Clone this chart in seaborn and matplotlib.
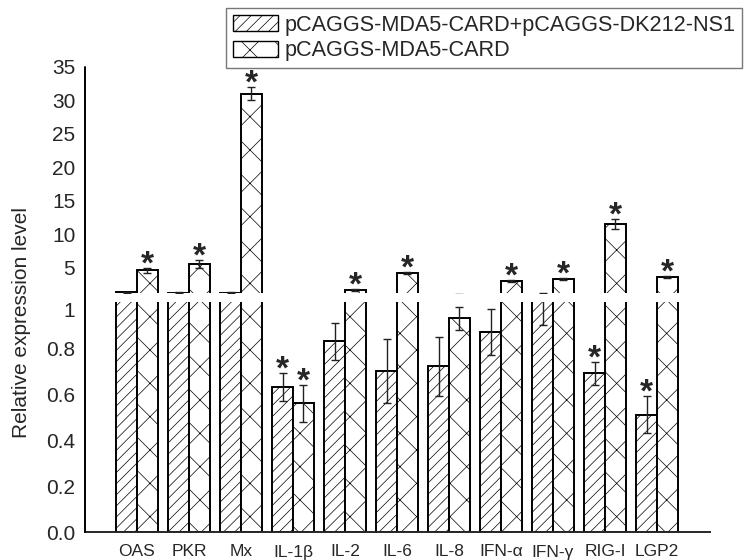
import pandas as pd
import seaborn as sns
import matplotlib.pyplot as plt
from matplotlib.patches import Patch
from matplotlib.lines import Line2D


genes = ['OAS', 'PKR', 'Mx', 'IL-1β', 'IL-2', 'IL-6', 'IL-8', 'IFN-α', 'IFN-γ', 'RIG-I', 'LGP2']
groups = ['pCAGGS-MDA5-CARD+pCAGGS-DK212-NS1', 'pCAGGS-MDA5-CARD']

ns1_vals = [1.3, 1.25, 1.25, 0.63, 0.83, 0.70, 0.72, 0.87, 1.07, 0.69, 0.51]
ns1_err = [0.08, 0.05, 0.05, 0.06, 0.08, 0.14, 0.13, 0.10, 0.17, 0.05, 0.08]
ns1_sig = [False, False, False, True, False, False, False, False, False, True, True]

card_vals = [4.6, 5.6, 31.0, 0.56, 1.65, 4.2, 0.93, 3.0, 3.25, 11.5, 3.6]
card_err = [0.4, 0.6, 1.0, 0.08, 0.10, 0.20, 0.05, 0.12, 0.15, 0.8, 0.20]
card_sig = [True, True, True, True, True, True, False, True, True, True, True]

lower_ticks = [0.0, 0.2, 0.4, 0.6, 0.8, 1.0]
lower_labels = ['0.0', '0.2', '0.4', '0.6', '0.8', '1']
upper_ticks = [5, 10, 15, 20, 25, 30, 35]

hatches = ['///', 'x']

df = pd.DataFrame({
    'gene': genes * 2,
    'group': [groups[0]] * len(genes) + [groups[1]] * len(genes),
    'value': ns1_vals + card_vals,
})

sns.set_style('white')
plt.rcParams['font.family'] = ['Liberation Sans', 'DejaVu Sans']
plt.rcParams['hatch.linewidth'] = 0.5

fig = plt.figure(figsize=(7.5, 5.6), dpi=100)
left, width = 85 / 750, 625 / 750
ax_lo = fig.add_axes([left, 28 / 560, width, 230 / 560])
ax_hi = fig.add_axes([left, 267 / 560, width, 226 / 560])

errs = [ns1_err, card_err]
vals = [ns1_vals, card_vals]
sigs = [ns1_sig, card_sig]

for ax in (ax_lo, ax_hi):
    sns.barplot(data=df, x='gene', y='value', hue='group', order=genes, hue_order=groups,
                palette=['white', 'white'], edgecolor='black', linewidth=1.4,
                errorbar=None, width=0.8, legend=False, ax=ax)
    bar_sets = list(ax.containers[:2])
    for k, cont in enumerate(bar_sets):
        centers = []
        for p in cont:
            p.set_hatch(hatches[k])
            centers.append(p.get_x() + p.get_width() / 2)
        ax.errorbar(centers, vals[k], yerr=errs[k], fmt='none', ecolor='#222222',
                    elinewidth=1, capsize=3, capthick=1)
        for c, v, e, s in zip(centers, vals[k], errs[k], sigs[k]):
            if not s:
                continue
            if (v > 1) == (ax is ax_hi):
                ax.annotate('*', (c, v + e), xytext=(0, -9), textcoords='offset points',
                            ha='center', va='bottom', fontsize=24, fontweight='bold')
    ax.set_xlim(-1.0, 11.02)
    ax.set_xlabel('')
    ax.set_ylabel('')
    sns.despine(ax=ax, left=True)
    ax.tick_params(axis='both', length=0)

ax_lo.set_ylim(0, 1.0)
ax_lo.set_yticks(lower_ticks)
ax_lo.set_yticklabels(lower_labels, fontsize=15)
ax_lo.get_yticklabels()[-1].set_va('top')
ax_lo.tick_params(axis='y', pad=7)
ax_lo.tick_params(axis='x', labelsize=12.5, pad=9)
ax_lo.spines['bottom'].set_linewidth(1.4)

ax_hi.set_ylim(1.2, 35)
ax_hi.set_yticks(upper_ticks)
ax_hi.tick_params(axis='y', labelsize=15, pad=7)
ax_hi.set_xticks([])
ax_hi.spines['bottom'].set_visible(False)

fig.add_artist(Line2D([left, left], [28 / 560, 493 / 560], transform=fig.transFigure,
                      color='black', linewidth=1.4))

fig.text(22 / 750, 1 - 322 / 560, 'Relative expression level', rotation=90,
         ha='center', va='center', fontsize=15)

handles = [Patch(facecolor='white', edgecolor='black', hatch=h, linewidth=1) for h in hatches]
leg = fig.legend(handles, groups, loc='upper left', bbox_to_anchor=(226 / 750, 1 - 8 / 560),
                 fontsize=15.6, frameon=True, fancybox=False, edgecolor='#777777', framealpha=1,
                 handlelength=2.1, handleheight=0.75, handletextpad=0.3,
                 labelspacing=0.22, borderpad=0.3, borderaxespad=0)
leg.get_frame().set_linewidth(1)

fig.savefig('out.png', dpi=100)
